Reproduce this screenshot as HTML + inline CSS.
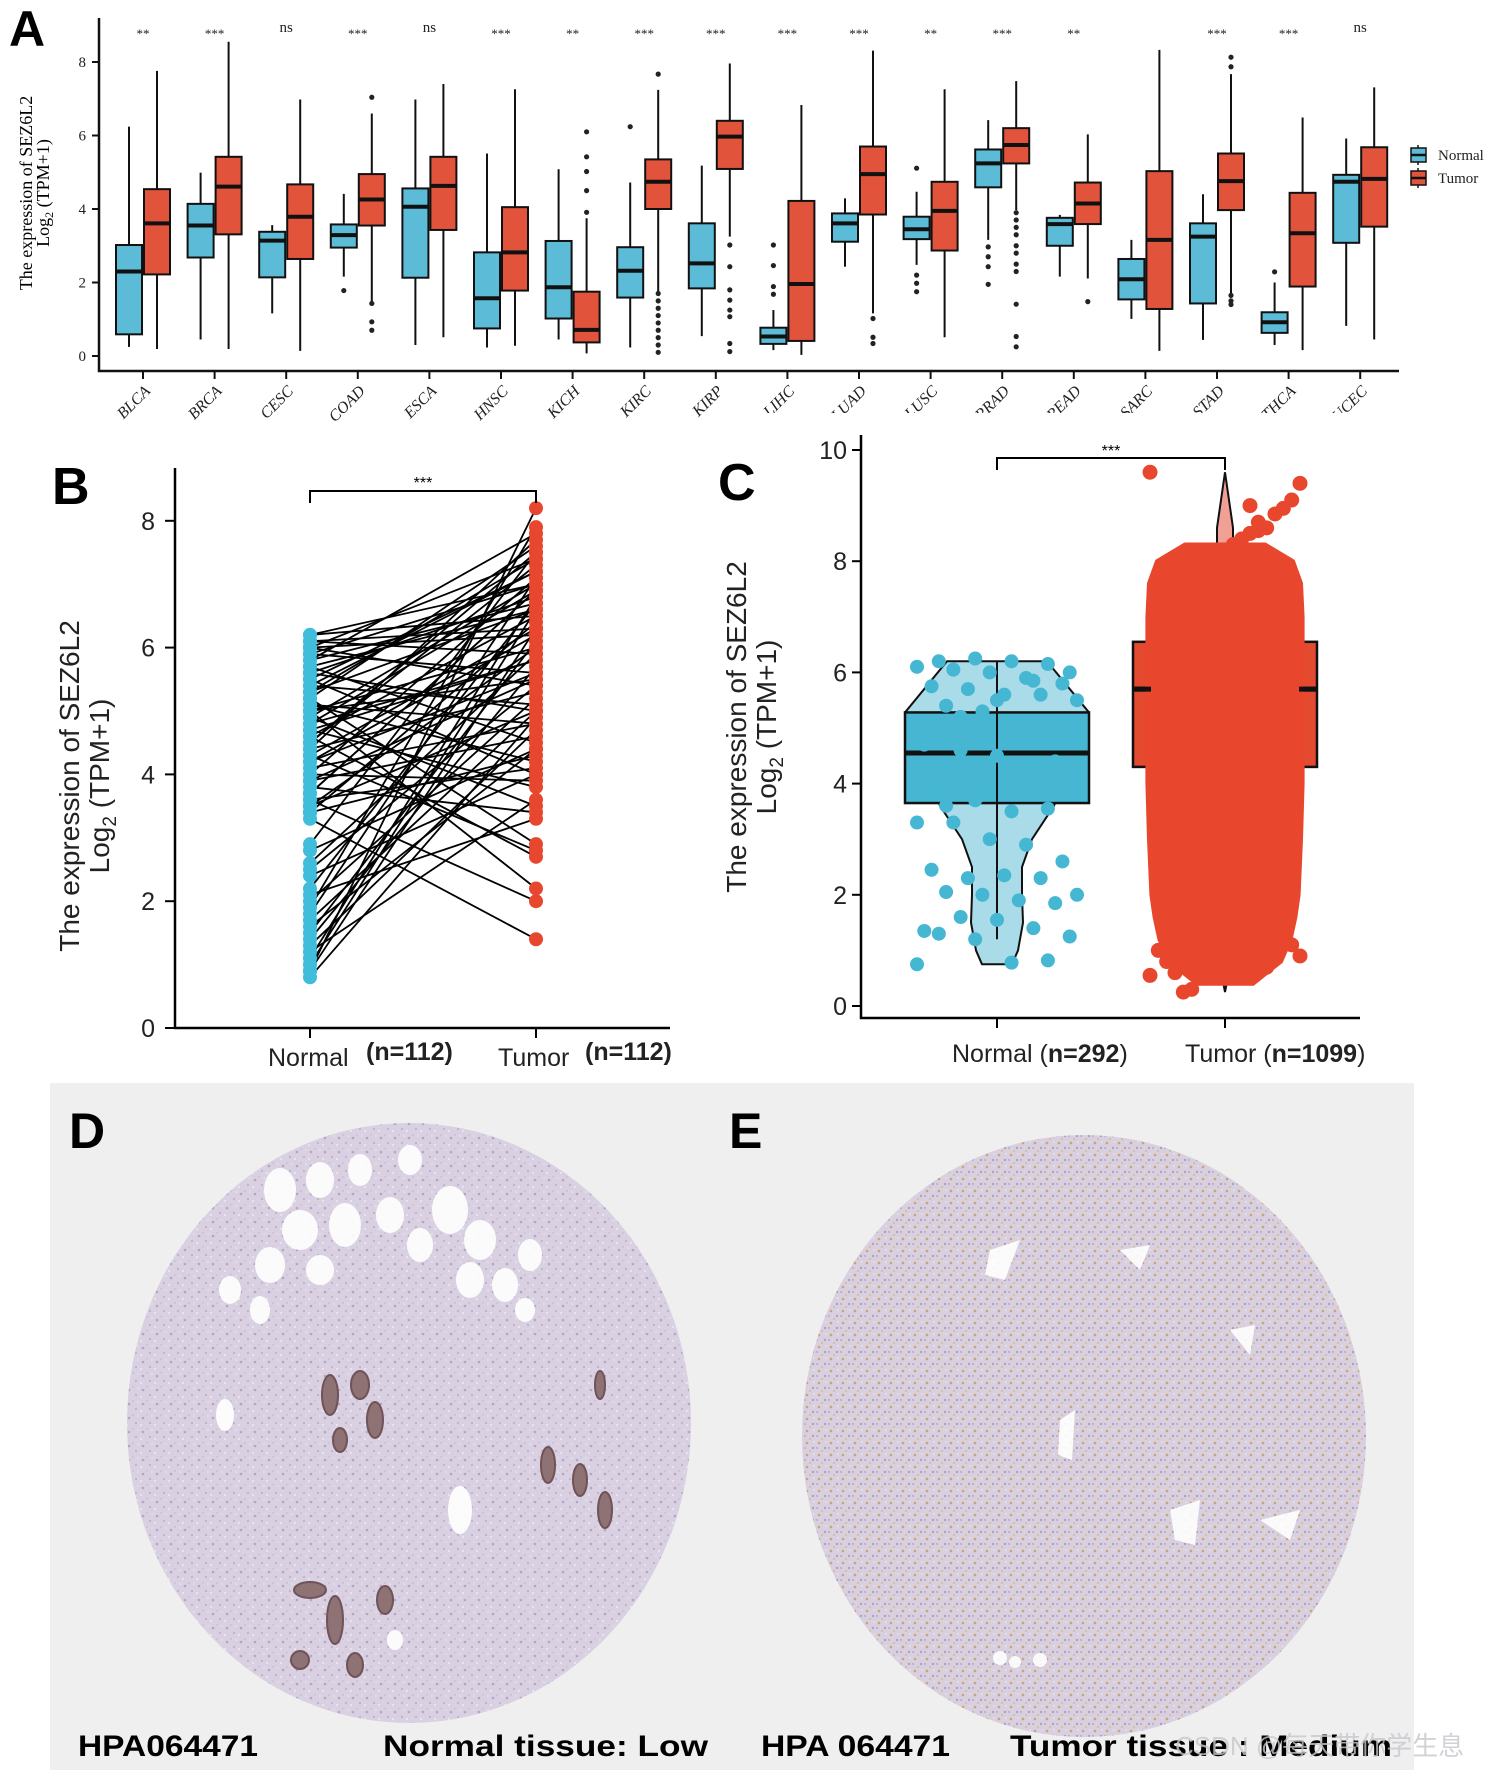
<!DOCTYPE html>
<html><head><meta charset="utf-8"><style>
html,body{margin:0;padding:0;background:#fff;}
svg{display:block;}
text{font-family:"Liberation Sans","Noto Sans CJK SC",sans-serif;}
.serif{font-family:"Liberation Serif",serif;}
</style></head><body>
<svg id="fig" xmlns="http://www.w3.org/2000/svg" width="1500" height="1770" viewBox="0 0 1500 1770">
<defs>
<pattern id="texD" width="14" height="14" patternUnits="userSpaceOnUse">
<circle cx="3" cy="4" r="1.3" fill="#a99abc"/><circle cx="10" cy="9" r="1.1" fill="#b7a9c6"/><circle cx="7" cy="1" r="0.9" fill="#c2b6d0"/><circle cx="12" cy="2" r="0.8" fill="#f4f0f6"/><circle cx="1" cy="11" r="1" fill="#f4f0f6"/>
</pattern>
<pattern id="texE" width="12" height="12" patternUnits="userSpaceOnUse">
<circle cx="3" cy="3" r="1.3" fill="#c79d62"/><circle cx="9" cy="8" r="1.2" fill="#a797ba"/><circle cx="6" cy="11" r="0.9" fill="#d6a970"/><circle cx="10" cy="2" r="0.8" fill="#f2eef4"/><circle cx="1" cy="8" r="1" fill="#b3a4c4"/>
</pattern>
<clipPath id="clipRight"><rect x="0" y="0" width="1500" height="413"/></clipPath>
</defs>
<g id="panelA"></g>
<g id="panelB"></g>
<g id="panelC"></g>
<g id="panelDE">
<rect x="50" y="1083" width="1364" height="687" fill="#efeff0"/>
<g>
<ellipse cx="409" cy="1423" rx="282" ry="300" fill="#d9d0e1"/>
<ellipse cx="409" cy="1423" rx="282" ry="300" fill="url(#texD)" opacity="0.8"/>
<g fill="#ffffff" opacity="0.92">
<ellipse cx="280" cy="1190" rx="16" ry="22"/><ellipse cx="320" cy="1180" rx="14" ry="18"/><ellipse cx="360" cy="1170" rx="12" ry="16"/>
<ellipse cx="410" cy="1160" rx="12" ry="15"/><ellipse cx="300" cy="1230" rx="18" ry="20"/><ellipse cx="345" cy="1225" rx="16" ry="22"/>
<ellipse cx="390" cy="1215" rx="14" ry="18"/><ellipse cx="450" cy="1210" rx="18" ry="24"/><ellipse cx="480" cy="1240" rx="16" ry="20"/>
<ellipse cx="420" cy="1245" rx="13" ry="17"/><ellipse cx="270" cy="1265" rx="15" ry="18"/><ellipse cx="320" cy="1270" rx="14" ry="15"/>
<ellipse cx="470" cy="1280" rx="14" ry="18"/><ellipse cx="505" cy="1285" rx="13" ry="17"/><ellipse cx="530" cy="1255" rx="12" ry="16"/>
<ellipse cx="230" cy="1290" rx="11" ry="14"/><ellipse cx="260" cy="1310" rx="10" ry="14"/><ellipse cx="525" cy="1310" rx="10" ry="12"/>
<ellipse cx="225" cy="1415" rx="9" ry="16"/><ellipse cx="460" cy="1510" rx="12" ry="24"/><ellipse cx="395" cy="1640" rx="8" ry="10"/>
</g>
<g fill="#8e7274" stroke="#6f5358" stroke-width="2">
<ellipse cx="330" cy="1395" rx="8" ry="20"/><ellipse cx="360" cy="1385" rx="9" ry="14"/><ellipse cx="375" cy="1420" rx="8" ry="18"/><ellipse cx="340" cy="1440" rx="7" ry="12"/>
<ellipse cx="548" cy="1465" rx="7" ry="18"/><ellipse cx="580" cy="1480" rx="7" ry="16"/><ellipse cx="605" cy="1510" rx="7" ry="18"/>
<ellipse cx="310" cy="1590" rx="16" ry="8"/><ellipse cx="335" cy="1620" rx="8" ry="24"/><ellipse cx="385" cy="1600" rx="8" ry="14"/><ellipse cx="300" cy="1660" rx="9" ry="9"/><ellipse cx="355" cy="1665" rx="8" ry="12"/>
<ellipse cx="600" cy="1385" rx="5" ry="14"/>
</g>
</g>
<g>
<ellipse cx="1084" cy="1436" rx="282" ry="301" fill="#d8cfdf"/>
<ellipse cx="1084" cy="1436" rx="282" ry="301" fill="url(#texE)" opacity="0.85"/>
<g fill="#ffffff" opacity="0.9">
<path d="M990 1250 L1020 1240 L1005 1280 L985 1275Z"/><path d="M1120 1250 L1150 1245 L1140 1270Z"/><path d="M1060 1420 L1075 1410 L1072 1460 L1058 1455Z"/>
<path d="M1170 1510 L1200 1500 L1195 1545 L1175 1540Z"/><path d="M1230 1330 L1255 1325 L1250 1355Z"/><path d="M1260 1520 L1300 1510 L1290 1540Z"/>
<circle cx="1000" cy="1658" r="7"/><circle cx="1015" cy="1662" r="6"/><circle cx="1040" cy="1660" r="7"/>
</g>
</g>
<text x="69" y="1148" font-size="50" font-weight="bold">D</text>
<text x="729" y="1148" font-size="50" font-weight="bold">E</text>
<text x="78" y="1756" font-size="30" font-weight="bold" textLength="180" lengthAdjust="spacingAndGlyphs">HPA064471</text>
<text x="383" y="1756" font-size="30" font-weight="bold" textLength="325" lengthAdjust="spacingAndGlyphs">Normal tissue:  Low</text>
<text x="761" y="1756" font-size="30" font-weight="bold" textLength="189" lengthAdjust="spacingAndGlyphs">HPA 064471</text>
<text x="1010" y="1756" font-size="30" font-weight="bold" textLength="382" lengthAdjust="spacingAndGlyphs">Tumor tissue :  Medium</text>
<text x="1175" y="1755" font-size="26" fill="#c8c8cc" opacity="0.8">CSDN @每天带你学生息</text>
</g>
</svg>
<script>
// ---------- Panel A data ----------
const catsA = ['BLCA','BRCA','CESC','COAD','ESCA','HNSC','KICH','KIRC','KIRP','LIHC','LUAD','LUSC','PRAD','READ','SARC','STAD','THCA','UCEC'];
const normalStatsA = [[0.25,0.59,2.3,3.02,6.24],[0.45,2.68,3.55,4.14,4.99],[1.16,2.14,3.14,3.38,3.56],[2.16,2.95,3.29,3.58,4.41],[0.3,2.13,4.06,4.56,6.98],[0.23,0.75,1.57,2.82,5.51],[0.45,1.02,1.87,3.13,5.08],[0.23,1.59,2.32,2.96,4.72],[0.54,1.84,2.52,3.61,5.18],[0.16,0.33,0.53,0.77,1.25],[2.43,3.11,3.61,3.88,4.29],[2.48,3.18,3.45,3.79,4.47],[3.16,4.59,5.24,5.62,6.42],[2.16,3.0,3.59,3.76,3.84],[1.01,1.54,2.09,2.64,3.16],[0.44,1.43,3.25,3.61,4.4],[0.3,0.63,0.92,1.19,2.0],[0.82,3.08,4.74,4.93,5.92]];
const tumorStatsA = [[0.19,2.22,3.61,4.54,7.76],[0.19,3.31,4.61,5.42,8.55],[0.14,2.64,3.79,4.67,6.98],[1.48,3.55,4.26,4.95,6.6],[0.51,3.43,4.63,5.42,7.4],[0.28,1.78,2.82,4.05,7.26],[0.07,0.37,0.71,1.75,3.75],[1.75,4.0,4.74,5.35,7.24],[3.25,5.09,5.97,6.4,7.96],[0.03,0.41,1.96,4.22,6.83],[1.16,3.85,4.95,5.7,8.31],[0.51,2.87,3.95,4.74,7.26],[3.97,5.24,5.74,6.2,7.48],[2.11,3.59,4.15,4.72,6.03],[0.14,1.28,3.16,5.03,8.33],[1.61,3.97,4.76,5.51,7.67],[0.16,1.89,3.34,4.44,6.49],[0.45,3.52,4.82,5.68,7.31]];
const normalOutA = [[],[],[],[1.78],[],[],[],[6.24],[],[3.02,2.46,1.89,1.68],[],[5.11,2.2,1.98,1.75],[2.97,2.7,2.43,1.95],[],[],[],[2.29],[]];
const tumorOutA = [[],[],[],[7.04,1.43,0.93,0.7],[],[],[6.1,5.42,5.02,4.5,3.91],[7.67,1.7,1.5,1.3,1.1,0.9,0.7,0.5,0.3,0.1],[3.02,2.43,1.8,1.52,1.25,1.07,0.34,0.12],[],[1.02,0.51,0.34],[],[3.9,3.7,3.5,3.3,3.0,2.8,2.5,2.3,1.41,0.53,0.25],[1.48],[],[8.13,7.87,1.65,1.5,1.4],[],[]];
const sigA = ['**','***','ns','***','ns','***','**','***','***','***','***','**','***','**','','***','***','ns'];
const ticksA = [0,2,4,6,8];
// ---------- Panel B data ----------
const normalB = [6.2,6.1,6.0,5.9,5.8,5.7,5.6,5.5,5.4,5.3,5.2,5.1,5.0,4.9,4.8,4.7,4.6,4.5,4.4,4.3,4.2,4.1,4.0,3.9,3.8,3.7,3.6,3.5,3.4,3.3,2.9,2.6,2.4,2.2,2.0,1.9,1.6,1.5,1.4,1.2,1.1,0.9,0.8,6.0,5.5,5.2,4.9,5.7,4.4,3.9,5.0,4.6,5.9,6.1,3.4,2.1,1.7,0.9,5.3,4.2,4.8,3.6,5.6,6.2,4.0,1.3,5.8,5.4,4.7,4.3,3.5,2.5,1.8,1.0,5.1,4.5,6.0,5.0,3.7,2.8];
const tumorB = [7.0,6.3,7.4,5.6,7.8,4.5,6.8,7.2,5.1,6.6,7.6,4.2,6.0,7.0,5.8,3.8,6.5,7.3,5.3,2.8,6.2,4.8,7.1,5.5,3.4,6.9,2.0,5.0,6.4,1.4,7.5,5.9,4.0,6.7,5.2,7.9,4.4,6.1,5.7,3.6,6.8,8.2,4.9,5.4,4.0,2.9,3.5,6.6,7.7,4.6,2.2,2.7,7.0,5.9,4.3,3.3,5.0,6.3,7.4,5.6,6.9,4.1,5.0,6.5,3.9,4.7,6.7,7.2,5.8,6.3,6.0,5.4,7.1,6.6,4.8,7.5,6.2,5.5,6.9,4.4];
const ticksB = [0,2,4,6,8];
// ---------- Panel C data ----------
const boxNormalC = [3.65,4.55,5.28];
const boxTumorC = [4.3,5.7,6.55];
const violinLevelsN = [0.75,1.0,1.5,2.0,2.5,3.0,3.6,5.28,6.2];
const violinDensN = [0.3,0.42,0.52,0.5,0.5,0.7,1.14,1.84,1.0];
const cloudLevelsT = [0.4,0.8,1.2,1.6,2.0,3.0,4.0,5.0,6.0,7.0,7.6,8.0,8.3];
const cloudDensT = [0.35,0.7,0.82,0.88,0.92,0.95,0.97,0.97,0.97,0.97,0.95,0.85,0.5];
const normalPtsC = [0.75,0.82,0.78,1.2,1.3,1.25,1.4,1.55,1.6,1.35,1.85,1.9,2.0,2.05,2.0,2.3,2.35,2.3,2.45,2.6,2.9,3.0,3.3,3.3,3.55,3.5,3.7,3.9,4.1,4.3,4.5,4.6,4.7,4.9,5.1,5.3,5.4,5.5,5.6,5.6,5.7,5.75,5.8,5.9,6.0,6.05,6.1,6.15,6.2,6.25,6.2,6.0,5.85,5.5,5.2,4.8,4.4,4.0,3.8,3.6];
const tumorPtsC = [9.6,9.4,9.1,8.95,8.85,8.6,8.55,8.5,8.4,8.3,8.2,8.1,8.0,0.5,0.3,0.25,0.6,0.8,1.0,0.55,0.9,1.1,1.3,1.5,0.7,8.7,9.0];
const ticksC = [0,2,4,6,8,10];

const NS = 'http://www.w3.org/2000/svg';
function mk(tag, attrs, parent){ const e=document.createElementNS(NS,tag); for(const k in attrs) e.setAttribute(k,attrs[k]); parent.appendChild(e); return e; }

// ================= Panel A =================
const gA = document.getElementById('panelA');
const xA = i => 143 + i*71.6;
const yA = v => 356 - v*36.75;
const BLUE_A='#5cbcd7', RED_A='#e2533c';
let t = mk('text',{x:9,y:46,'font-size':50,'font-weight':'bold'},gA); t.textContent='A';


let ax = mk('path',{d:'M99 18 L99 371 L1399 371',fill:'none',stroke:'#111','stroke-width':2.5},gA);


ticksA.forEach(v=>{
  const tk=mk('line',{x1:92,x2:99,y1:yA(v),y2:yA(v),stroke:'#111','stroke-width':2},gA);
  
  
  const tl=mk('text',{x:86,y:yA(v)+5,'font-size':15,'text-anchor':'end','class':'serif',fill:'#222'},gA);
  tl.textContent=v;
  
  
});
const ytA = mk('text',{transform:'translate(32,193) rotate(-90)','font-size':18,'text-anchor':'middle','class':'serif'},gA);
ytA.textContent='The expression of SEZ6L2';


const ytA2 = mk('text',{transform:'translate(49,193) rotate(-90)','font-size':18,'text-anchor':'middle','class':'serif'},gA);
ytA2.innerHTML='Log<tspan font-size="12" dy="4">2</tspan><tspan dy="-4"> (TPM+1)</tspan>';



function drawBox(g, cx, w, s, color, yf, lw, name){
  const wh=mk('line',{x1:cx,x2:cx,y1:yf(s[0]),y2:yf(s[4]),stroke:'#111','stroke-width':lw},g);
  
  
  const r=mk('rect',{x:cx-w/2,y:yf(s[3]),width:w,height:yf(s[1])-yf(s[3]),fill:color,stroke:'#111','stroke-width':lw},g);
  
  
  const m=mk('line',{x1:cx-w/2,x2:cx+w/2,y1:yf(s[2]),y2:yf(s[2]),stroke:'#111','stroke-width':lw*2},g);
  
  
}
catsA.forEach((c,i)=>{
  const cx=xA(i);
  drawBox(gA,cx-14,26,normalStatsA[i],BLUE_A,yA,2,'normal-'+c.toLowerCase());
  drawBox(gA,cx+14,26,tumorStatsA[i],RED_A,yA,2,'tumor-'+c.toLowerCase());
  normalOutA[i].forEach(v=>{ const o=mk('circle',{cx:cx-14,cy:yA(v),r:2.6,fill:'#222'},gA);
    
     });
  tumorOutA[i].forEach(v=>{ const o=mk('circle',{cx:cx+14,cy:yA(v),r:2.6,fill:'#222'},gA);
    
     });
  const tk=mk('line',{x1:cx,x2:cx,y1:371,y2:379,stroke:'#111','stroke-width':2},gA);
  
  
  const holder = i>=9 ? mk('g',{'clip-path':'url(#clipRight)'},gA) : gA;
  const lb=mk('text',{transform:`translate(${cx+8},${392}) rotate(-45)`,'font-size':16,'text-anchor':'end','class':'serif','font-style':'italic',fill:'#222'},holder);
  lb.textContent=c;
  
  
  const sg=mk('text',{x:cx,y:sigA[i]==='ns'?32:38,'font-size':sigA[i]==='ns'?15:13,'text-anchor':'middle','class':'serif',fill:'#222'},gA);
  sg.textContent=sigA[i];
  
  
});
[['Normal',BLUE_A,155],['Tumor',RED_A,178]].forEach(([n,c,y])=>{
  const lg=mk('g',{},gA);
  
  
  mk('line',{x1:1418,x2:1418,y1:y-10,y2:y+10,stroke:'#111','stroke-width':1.5},lg);
  mk('rect',{x:1411,y:y-7,width:15,height:14,fill:c,stroke:'#111','stroke-width':1.5},lg);
  mk('line',{x1:1411,x2:1426,y1:y,y2:y,stroke:'#111','stroke-width':2.5},lg);
  const tx=mk('text',{x:1438,y:y+5,'font-size':15,'class':'serif',fill:'#222'},lg); tx.textContent=n;
});

// ================= Panel B =================
const gB = document.getElementById('panelB');
const yB = v => 1028 - v*63.4;
const xN_B=310, xT_B=536;
t = mk('text',{x:52,y:504,'font-size':52,'font-weight':'bold'},gB); t.textContent='B';


normalB.forEach((n,i)=>{
  const l=mk('line',{x1:xN_B,y1:yB(n),x2:xT_B,y2:yB(tumorB[i]),stroke:'#000','stroke-width':1.8},gB);
  
  
});
normalB.forEach(v=>{ const c=mk('circle',{cx:xN_B,cy:yB(v),r:7,fill:'#3fbddb'},gB);
  
   });
tumorB.forEach(v=>{ const c=mk('circle',{cx:xT_B,cy:yB(v),r:7,fill:'#e8472f'},gB);
  
   });
ax = mk('path',{d:'M175 468 L175 1028 L670 1028',fill:'none',stroke:'#000','stroke-width':2.5},gB);


ticksB.forEach(v=>{
  const tk=mk('line',{x1:165,x2:175,y1:yB(v),y2:yB(v),stroke:'#000','stroke-width':2},gB);
  
  
  const tl=mk('text',{x:155,y:yB(v)+9,'font-size':25,'text-anchor':'end',fill:'#222'},gB);
  tl.textContent=v;
  
  
});
[xN_B,xT_B].forEach(x=>{ const tk=mk('line',{x1:x,x2:x,y1:1028,y2:1038,stroke:'#000','stroke-width':2},gB);
  
   });
[['Normal',268,1066,false],['(n=112)',366,1060,true],['Tumor',498,1066,false],['(n=112)',585,1060,true]].forEach(([s,x,y,b])=>{
  const tl=mk('text',{x:x,y:y,'font-size':25,'font-weight':b?'bold':'normal',fill:'#222'},gB);
  tl.textContent=s;
  
  
});
const ytB=mk('text',{transform:'translate(79,786) rotate(-90)','font-size':28,'text-anchor':'middle',fill:'#222'},gB);
ytB.textContent='The expression of SEZ6L2';


const ytB2=mk('text',{transform:'translate(109,786) rotate(-90)','font-size':28,'text-anchor':'middle',fill:'#222'},gB);
ytB2.innerHTML='Log<tspan font-size="19" dy="7">2</tspan><tspan dy="-7"> (TPM+1)</tspan>';


const brB=mk('path',{d:`M${xN_B} 503 L${xN_B} 491 L${xT_B} 491 L${xT_B} 503`,fill:'none',stroke:'#000','stroke-width':2},gB);


const sB=mk('text',{x:(xN_B+xT_B)/2,y:488,'font-size':16,'text-anchor':'middle'},gB); sB.textContent='***';



// ================= Panel C =================
const gC = document.getElementById('panelC');
const yC = v => 1006 - v*55.6;
const xN_C=997, xT_C=1225;
t = mk('text',{x:718,y:500,'font-size':52,'font-weight':'bold'},gC); t.textContent='C';


let left=[], right=[];
violinLevelsN.forEach((v,i)=>{ left.push(`${xN_C-violinDensN[i]*50},${yC(v)}`); right.unshift(`${xN_C+violinDensN[i]*50},${yC(v)}`); });
const vn=mk('polygon',{points:left.concat(right).join(' '),fill:'#a9dbe8',stroke:'#111','stroke-width':2},gC);


const vt=mk('polygon',{points:`${xT_C},${yC(9.6)} ${xT_C+8},${yC(8.6)} ${xT_C+8},${yC(1.0)} ${xT_C},${yC(0.25)} ${xT_C-8},${yC(1.0)} ${xT_C-8},${yC(8.6)}`,fill:'#f0a095',stroke:'#111','stroke-width':2},gC);


function boxC(cx, s, color, name){
  const r=mk('rect',{x:cx-92,y:yC(s[2]),width:184,height:yC(s[0])-yC(s[2]),fill:color,stroke:'#111','stroke-width':2.5},gC);
  
  
  const m=mk('line',{x1:cx-92,x2:cx+92,y1:yC(s[1]),y2:yC(s[1]),stroke:'#111','stroke-width':5},gC);
  
  
}
boxC(xN_C,boxNormalC,'#47b6d2','normal');
boxC(xT_C,boxTumorC,'#e44a30','tumor');
const wl=mk('line',{x1:xN_C,x2:xN_C,y1:yC(6.2),y2:yC(1.2),stroke:'#111','stroke-width':2},gC);


left=[]; right=[];
cloudLevelsT.forEach((v,i)=>{ left.push(`${xT_C-cloudDensT[i]*80},${yC(v)}`); right.unshift(`${xT_C+cloudDensT[i]*80},${yC(v)}`); });
const cl=mk('polygon',{points:left.concat(right).join(' '),fill:'#e8472e',stroke:'#e8472e','stroke-width':4,'stroke-linejoin':'round'},gC);


const mt=mk('line',{x1:xT_C-92,x2:xT_C-74,y1:yC(boxTumorC[1]),y2:yC(boxTumorC[1]),stroke:'#111','stroke-width':5},gC);


const mt2=mk('line',{x1:xT_C+74,x2:xT_C+92,y1:yC(boxTumorC[1]),y2:yC(boxTumorC[1]),stroke:'#111','stroke-width':5},gC);


tumorPtsC.forEach((v,i)=>{
  const jit=((i*37)%19/18-0.5)*150;
  const p=mk('circle',{cx:xT_C+jit,cy:yC(v),r:7.5,fill:'#e8472e'},gC);
  
  
});
normalPtsC.forEach((v,i)=>{
  const jit=((i*41)%23/22-0.5)*160;
  const p=mk('circle',{cx:xN_C+jit,cy:yC(v),r:7,fill:'#45b7d3'},gC);
  
  
});
ax = mk('path',{d:'M861 435 L861 1018 L1360 1018',fill:'none',stroke:'#000','stroke-width':2.5},gC);


ticksC.forEach(v=>{
  const tk=mk('line',{x1:852,x2:861,y1:yC(v),y2:yC(v),stroke:'#000','stroke-width':2},gC);
  
  
  const tl=mk('text',{x:847,y:yC(v)+9,'font-size':25,'text-anchor':'end',fill:'#222'},gC);
  tl.textContent=v;
  
  
});
[xN_C,xT_C].forEach(x=>{ const tk=mk('line',{x1:x,x2:x,y1:1018,y2:1028,stroke:'#000','stroke-width':2},gC);
  
   });
[['Normal (',952,'n=292',')'],['Tumor (',1185,'n=1099',')']].forEach(([a,x,b,c])=>{
  const tl=mk('text',{x:x,y:1062,'font-size':25,fill:'#222'},gC);
  tl.innerHTML=`${a}<tspan font-weight="bold">${b}</tspan>${c}`;
  
  
});
const ytC=mk('text',{transform:'translate(746,727) rotate(-90)','font-size':28,'text-anchor':'middle',fill:'#222'},gC);
ytC.textContent='The expression of SEZ6L2';


const ytC2=mk('text',{transform:'translate(776,727) rotate(-90)','font-size':28,'text-anchor':'middle',fill:'#222'},gC);
ytC2.innerHTML='Log<tspan font-size="19" dy="7">2</tspan><tspan dy="-7"> (TPM+1)</tspan>';


const brC=mk('path',{d:`M${xN_C} 470 L${xN_C} 458 L${xT_C} 458 L${xT_C} 470`,fill:'none',stroke:'#000','stroke-width':2},gC);


const sC=mk('text',{x:(xN_C+xT_C)/2,y:456,'font-size':16,'text-anchor':'middle'},gC); sC.textContent='***';


</script>
</body></html>
